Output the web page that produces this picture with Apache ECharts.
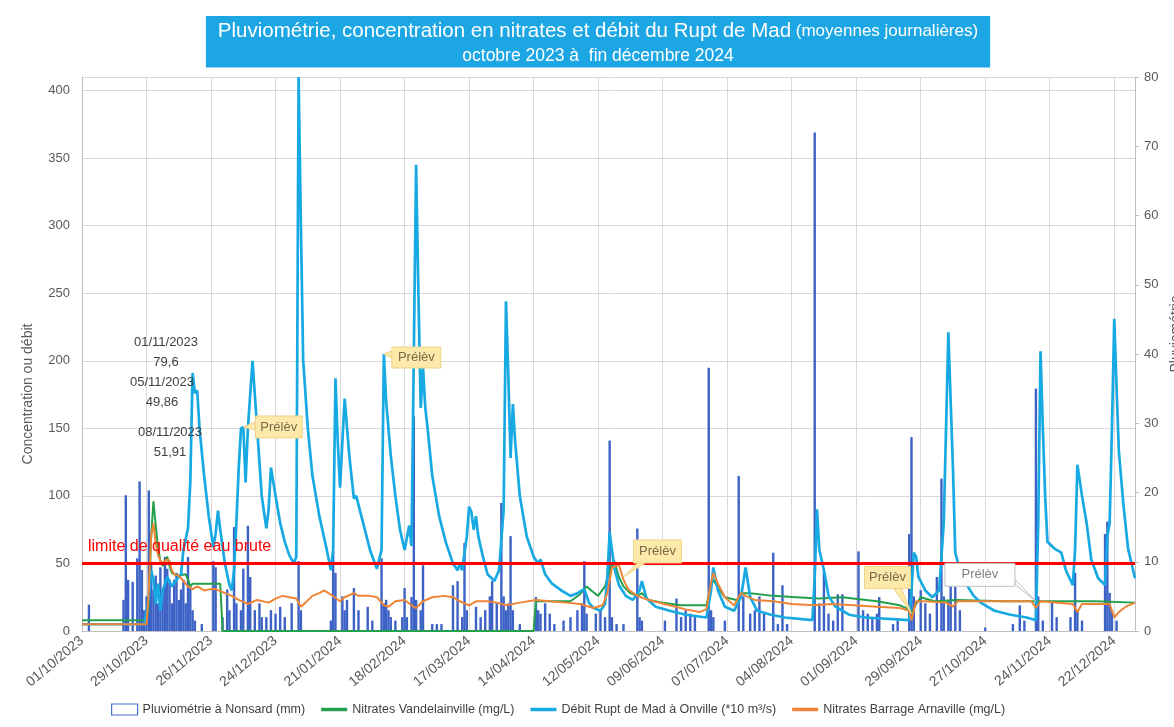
<!DOCTYPE html>
<html>
<head>
<meta charset="utf-8">
<script src="https://cdn.jsdelivr.net/npm/echarts@6/dist/echarts.min.js"></script>
<style>
html,body{margin:0;padding:0;background:#fff;}
#chart{width:1174px;height:727px;}
</style>
</head>
<body>
<div id="chart"></div>
<script>
// ---- DATA (x = days since 01/10/2023) ----
const START_DATE = [2023, 10, 1];
const DAY_COUNT = 458; // 01/10/2023 .. 31/12/2024

// Pluviométrie à Nonsard (mm) — right axis
const pluviometrie = [
[3,3.8],[18,4.5],[19,19.6],[20,7.4],[22,7.1],[24,10.5],[25,21.6],[26,8.8],[27,3],[28,5],[29,20.3],[30,10],
[31,6],[32,8],[33,4],[34,9.2],[35,6],[36,10.7],[37,9],[38,7.4],[39,4],[40,7.4],[41,8.4],[42,4.5],[43,6],
[44,7.4],[45,4],[46,10.7],[47,6.4],[48,3],[49,1.5],[52,1],[57,10.1],[58,9.2],[61,2],[63,6],[64,3],[66,15],
[67,4],[69,3],[70,9],[72,15.2],[73,7.8],[75,3],[77,4],[78,2],[80,2],[82,3],[84,2.5],[86,3.5],[88,2],[91,4],
[94,10.1],[95,3],[108,1.5],[109,11.5],[110,8.4],[113,5],[114,3],[115,4.5],[118,6.2],[120,3],[124,3.5],
[126,1.5],[130,10.5],[131,4],[132,4.5],[133,3],[134,2],[136,1.5],[139,2],[140,6.2],[141,2],[143,4.9],
[144,31],[145,4.5],[147,3],[148,9.5],[152,1],[154,1],[156,1],[161,6.6],[163,7.2],[165,2],[166,12.7],
[167,3],[171,3.5],[173,2],[175,3],[177,5],[178,7.2],[180,4],[182,18.5],[183,5],[184,3],[185,4],[186,13.7],
[187,3],[190,1],[197,4.9],[198,3],[199,2.5],[201,4],[203,2.5],[205,1],[209,1.5],[212,2],[215,3],[217,4],
[218,10.1],[219,2.5],[223,2.5],[225,3],[227,2],[229,27.5],[230,2],[232,1],[235,1],[241,14.8],[242,2],
[243,1.5],[253,1.5],[258,4.7],[260,2],[262,3],[264,2.5],[266,2],[272,38],[273,3],[274,2],[279,1.5],
[285,22.4],[287,5],[290,2.5],[292,3],[294,5],[296,2.5],[300,11.3],[302,1],[304,6.6],[306,1],[318,72],
[320,4],[322,8.6],[324,2.5],[326,1.5],[328,5.3],[330,5.3],[337,11.5],[339,3],[341,2.5],[343,2],[345,2.5],
[346,4.9],[352,1],[354,1.5],[359,14],[360,28],[361,5],[364,5.9],[366,4],[368,2.5],[371,7.8],[373,22],
[374,5],[376,4.5],[377,7.2],[379,6.4],[381,3],[392,0.5],[404,1],[407,3.7],[409,1.5],[414,35],[415,5],
[417,1.5],[421,4.3],[423,2],[429,2],[431,8.4],[432,3],[434,1.5],[444,14],[445,15.8],[446,5.5],[447,3],[449,1.5]
];

// Nitrates Vandelainville (mg/L) — left axis
const nitratesVandelainville = [
[0,8],[28,8],[29,20],[30,70],[31,96],[32,78],[33,62],[34,52],[35,48],[36,52],[37,55],[38,48],[39,43],[40,42],
[42,41],[45,42],[46,38],[47,33],[48,35],[60,35],[61,0],[196,0],[197,22],[205,22],[212,22],[216,27],[219,33],
[221,30],[224,26],[227,33],[229,45],[231,52],[233,40],[235,33],[238,28],[241,26],[243,28],[246,23],[252,21],
[260,19],[271,19],[273,33],[274,38],[276,32],[279,25],[284,23],[287,28],[290,28],[300,26],[310,25],[320,24],
[330,25],[345,22],[355,19],[359,16],[360,13],[362,20],[364,25],[370,22],[380,23],[400,22],[420,22],[440,22],[457,21]
];

// Débit Rupt de Mad à Onville (*10 m³/s) — left axis
const debitOnville = [
[0,5],[14,5],[27,5],[29,25],[30,45],[31,38],[32,20],[33,35],[34,15],[35,30],[37,40],[39,33],[41,38],[43,42],
[44,60],[46,76],[47,110],[48,191],[49,176],[50,178],[51,150],[53,115],[55,85],[57,62],[58,72],[59,89],[60,75],
[62,50],[64,34],[65,30],[66,45],[67,80],[68,120],[69,150],[70,151],[71,110],[72,150],[74,200],[76,150],[78,100],
[80,76],[81,90],[82,121],[84,100],[86,80],[88,66],[90,56],[92,50],[93,55],[94,410],[95,300],[96,200],[98,150],
[100,115],[103,85],[106,62],[108,45],[109,60],[110,187],[111,140],[112,106],[113,140],[114,172],[116,130],
[118,98],[119,100],[122,80],[125,60],[128,46],[130,60],[131,205],[132,170],[134,130],[136,100],[138,75],
[140,60],[142,78],[143,63],[145,345],[146,250],[147,165],[148,195],[149,165],[150,150],[152,115],[155,85],
[158,65],[161,50],[163,45],[164,50],[165,45],[167,70],[168,92],[169,88],[170,75],[171,85],[172,70],[174,55],
[176,42],[179,37],[181,45],[183,90],[184,244],[185,190],[186,128],[187,168],[188,140],[190,100],[193,70],
[196,55],[198,50],[199,53],[201,42],[204,35],[208,30],[212,26],[215,28],[218,31],[220,21],[222,17],[225,15],
[227,20],[228,40],[229,73],[230,60],[231,47],[233,34],[236,26],[239,23],[242,30],[243,37],[245,24],[249,18],
[255,15],[262,12],[271,10],[273,30],[274,47],[276,30],[279,18],[283,15],[286,25],[288,47],[290,25],[293,15],
[299,12],[305,10],[317,8],[318,40],[319,90],[320,60],[322,45],[324,26],[327,18],[333,12],[340,10],[359,8],
[360,30],[361,58],[362,55],[363,40],[366,30],[369,25],[372,30],[374,80],[376,221],[377,170],[378,120],
[379,58],[381,45],[384,34],[387,26],[390,21],[396,15],[403,12],[410,10],[414,8],[415,80],[416,207],[417,150],
[418,100],[419,66],[422,61],[425,58],[427,45],[430,34],[431,60],[432,123],[434,100],[436,80],[438,53],
[441,39],[444,34],[445,70],[446,80],[447,150],[448,231],[449,180],[450,133],[452,93],[454,61],[457,39]
];

// Nitrates Barrage Arnaville (mg/L) — left axis
const nitratesArnaville = [
[0,5],[28,5],[29,30],[30,70],[31,79.6],[32,65],[33,56],[34,52],[35,49.86],[36,52],[37,53],[38,51.91],[39,45],
[40,42],[42,41],[44,37],[46,33],[48,31],[50,33],[53,30],[56,31],[58,31],[62,28],[65,26],[68,23],[72,20],
[76,23],[81,21],[84,24],[87,26],[90,25],[93,24],[95,18],[97,21],[100,26],[103,28],[105,30],[108,27],[112,22],
[114,25],[118,28],[120,26],[125,26],[128,25],[131,19],[133,18],[136,22],[140,23],[143,19],[145,17],[148,22],
[152,25],[157,26],[161,25],[164,22],[168,19],[171,22],[176,22],[180,21],[184,19],[190,21],[197,23],[203,22],
[210,21],[216,20],[222,17],[226,19],[228,28],[230,47],[233,49],[235,38],[237,31],[240,27],[244,24],[248,22],
[255,19],[262,16],[268,14],[271,16],[273,36],[274,43],[276,35],[279,25],[283,19],[286,28],[288,26],[292,23],
[300,22],[308,20],[318,19],[325,20],[335,19],[345,18],[355,17],[359,15],[360,8],[362,22],[366,22],[375,21],
[378,18],[380,22],[395,22],[412,22],[414,17],[416,22],[430,20],[432,14],[434,20],[446,20],[448,10],[450,14],
[453,18],[457,21]
];

const limiteQualite = 50;
const prelevements = [[70,151],[131,205],[235,40],[360,13],[414,22]];
const annotations = [['01/11/2023','79,6'],['05/11/2023','49,86'],['08/11/2023','51,91']];
const leftTicks = {min:0, max:410, interval:50};
const rightTicks = {min:0, max:80, interval:10};

// ---- categories (daily dates) ----
const categories = [];
for (let i = 0; i < DAY_COUNT; i++) {
  const dt = new Date(Date.UTC(START_DATE[0], START_DATE[1]-1, START_DATE[2] + i));
  const dd = String(dt.getUTCDate()).padStart(2,'0');
  const mm = String(dt.getUTCMonth()+1).padStart(2,'0');
  categories.push(dd + '/' + mm + '/' + dt.getUTCFullYear());
}

const FONT = 'Liberation Sans, Arial, sans-serif';
const chart = echarts.init(document.getElementById('chart'));

const option = {
  animation: false,
  backgroundColor: '#ffffff',
  textStyle: {fontFamily: FONT},
  title: {
    left: 586, top: 14,
    backgroundColor: '#1DA6E4',
    padding: [5, 12, 2, 12],
    textAlign: 'center',
    text: '{a|Pluviométrie, concentration en nitrates et débit du Rupt de Mad}{b| (moyennes journalières)}\n{c|octobre 2023 à  fin décembre 2024}',
    textStyle: {
      fontWeight: 'normal',
      rich: {
        a: {fontSize: 20.5, color: '#fff', fontFamily: FONT, fontWeight: 'normal', lineHeight: 25},
        b: {fontSize: 17, color: '#fff', fontFamily: FONT, fontWeight: 'normal', lineHeight: 25},
        c: {fontSize: 17.5, color: '#fff', fontFamily: FONT, fontWeight: 'normal', lineHeight: 25}
      }
    }
  },
  grid: {left: 82, right: 39, top: 77, bottom: 96, containLabel: false, outerBoundsMode: 'none'},
  legend: {
    bottom: 6, left: 106,
    itemWidth: 26, itemHeight: 11, itemGap: 16,
    textStyle: {fontSize: 12.5, color: '#404040', fontFamily: FONT},
    data: [
      {name: 'Pluviométrie à Nonsard (mm)', icon: 'rect', itemStyle: {color: '#ffffff', borderColor: '#4a6fd0', borderWidth: 1.2}},
      {name: 'Nitrates Vandelainville (mg/L)', icon: 'path://M0,0H30V4H0Z'},
      {name: 'Débit Rupt de Mad à Onville (*10 m³/s)', icon: 'path://M0,0H30V4H0Z'},
      {name: 'Nitrates Barrage Arnaville (mg/L)', icon: 'path://M0,0H30V4H0Z'}
    ]
  },
  xAxis: {
    type: 'category', data: categories, boundaryGap: false,
    axisLine: {show: true, lineStyle: {color: '#BFBFBF'}},
    axisTick: {show: false, interval: 27},
    axisLabel: {interval: 27, rotate: 40, fontSize: 14, color: '#595959', margin: 8, fontFamily: FONT},
    splitLine: {show: true, interval: 27, lineStyle: {color: '#D9D9D9', width: 1}}
  },
  yAxis: [
    {
      type: 'value', position: 'left', min: leftTicks.min, max: leftTicks.max, interval: leftTicks.interval,
      name: 'Concentration ou débit', nameLocation: 'middle', nameGap: 47,
      nameTextStyle: {fontSize: 14, color: '#595959', fontFamily: FONT, padding: [0, 80, 0, 0]},
      axisLine: {show: true, lineStyle: {color: '#BFBFBF'}},
      axisTick: {show: false},
      axisLabel: {fontSize: 13, color: '#595959', margin: 12, fontFamily: FONT,
        formatter: v => (v % 50 === 0 ? String(v) : '')},
      splitLine: {show: true, lineStyle: {color: '#D9D9D9', width: 1}}
    },
    {
      type: 'value', position: 'right', min: rightTicks.min, max: rightTicks.max, interval: rightTicks.interval,
      name: 'Pluviométrie', nameLocation: 'middle', nameGap: 27,
      nameTextStyle: {fontSize: 14, color: '#595959', fontFamily: FONT, padding: [0, 0, 0, 40]},
      axisLine: {show: true, lineStyle: {color: '#BFBFBF'}},
      axisTick: {show: true, length: 4, lineStyle: {color: '#BFBFBF'}},
      axisLabel: {fontSize: 13, color: '#595959', margin: 9, fontFamily: FONT},
      splitLine: {show: false}
    }
  ],
  series: [
    {
      name: 'Pluviométrie à Nonsard (mm)', type: 'bar', yAxisIndex: 1,
      data: pluviometrie, barWidth: 2.4,
      itemStyle: {color: '#3D62C6'}
    },
    {
      name: 'Nitrates Vandelainville (mg/L)', type: 'line', yAxisIndex: 0,
      data: nitratesVandelainville, showSymbol: false, symbol: 'none',
      lineStyle: {color: '#22A04B', width: 2}, itemStyle: {color: '#22A04B'},
      markLine: {
        silent: true, symbol: 'none',
        lineStyle: {color: '#FF0000', width: 3, type: 'solid'},
        label: {show: true, position: 'insideStartTop', formatter: 'limite de qualité eau brute',
          color: '#FF0000', fontSize: 16, fontFamily: FONT, distance: [6, 9]},
        data: [{yAxis: limiteQualite}]
      }
    },
    {
      name: 'Débit Rupt de Mad à Onville (*10 m³/s)', type: 'line', yAxisIndex: 0,
      data: debitOnville, showSymbol: false, symbol: 'none',
      lineStyle: {color: '#16A9E2', width: 2.7}, itemStyle: {color: '#16A9E2'}
    },
    {
      name: 'Nitrates Barrage Arnaville (mg/L)', type: 'line', yAxisIndex: 0,
      data: nitratesArnaville, showSymbol: false, symbol: 'none',
      lineStyle: {color: '#EE8435', width: 2}, itemStyle: {color: '#EE8435'}
    }
  ]
};
chart.setOption(option);

// ---- annotations (callouts placed relative to the data point they point at) ----
const calloutLayout = [
  {bx: 12, by: -11, w: 47, h: 22, base: [[12,-5],[12,3]], fill: '#FDE9A9', stroke: '#EED488', color: '#7A6A4A'},
  {bx: 8, by: -7, w: 49, h: 21, base: [[8,-3],[8,4]], fill: '#FDE9A9', stroke: '#EED488', color: '#7A6A4A'},
  {bx: 10, by: -37, w: 48, h: 23, base: [[14,-14],[22,-14]], fill: '#FDE9A9', stroke: '#EED488', color: '#7A6A4A'},
  {bx: -47, by: -47, w: 46, h: 22, base: [[-10,-25],[-18,-25]], fill: '#FDE9A9', stroke: '#EED488', color: '#7A6A4A'},
  {bx: -91, by: -38, w: 70, h: 23, base: [[-21,-22],[-21,-17]], fill: '#FFFFFF', stroke: '#BFBFBF', color: '#808080'}
];
const graphics = [];
prelevements.forEach((p, i) => {
  const [px, py] = chart.convertToPixel({xAxisIndex: 0, yAxisIndex: 0}, p);
  const L = calloutLayout[i];
  graphics.push({
    type: 'polygon', z: 100,
    shape: {points: [[px + L.base[0][0], py + L.base[0][1]], [px, py], [px + L.base[1][0], py + L.base[1][1]]]},
    style: {fill: L.fill, stroke: L.stroke, lineWidth: 1}
  });
  graphics.push({
    type: 'rect', z: 101,
    shape: {x: px + L.bx, y: py + L.by, width: L.w, height: L.h},
    style: {fill: L.fill, stroke: L.stroke, lineWidth: 1}
  });
  graphics.push({
    type: 'text', z: 102,
    style: {x: px + L.bx + L.w / 2, y: py + L.by + L.h / 2, text: 'Prélèv', fill: L.color,
      font: '13px ' + FONT, textAlign: 'center', textVerticalAlign: 'middle'}
  });
});
const annotationPos = [[166, 342], [162, 382], [170, 432]];
annotations.forEach((a, i) => {
  const [x, y] = annotationPos[i];
  graphics.push({type: 'text', z: 90, style: {x: x, y: y, text: a[0], fill: '#404040',
    font: '13px ' + FONT, textAlign: 'center', textVerticalAlign: 'middle'}});
  graphics.push({type: 'text', z: 90, style: {x: x, y: y + 20, text: a[1], fill: '#404040',
    font: '13px ' + FONT, textAlign: 'center', textVerticalAlign: 'middle'}});
});
chart.setOption({graphic: graphics});
</script>
</body>
</html>
